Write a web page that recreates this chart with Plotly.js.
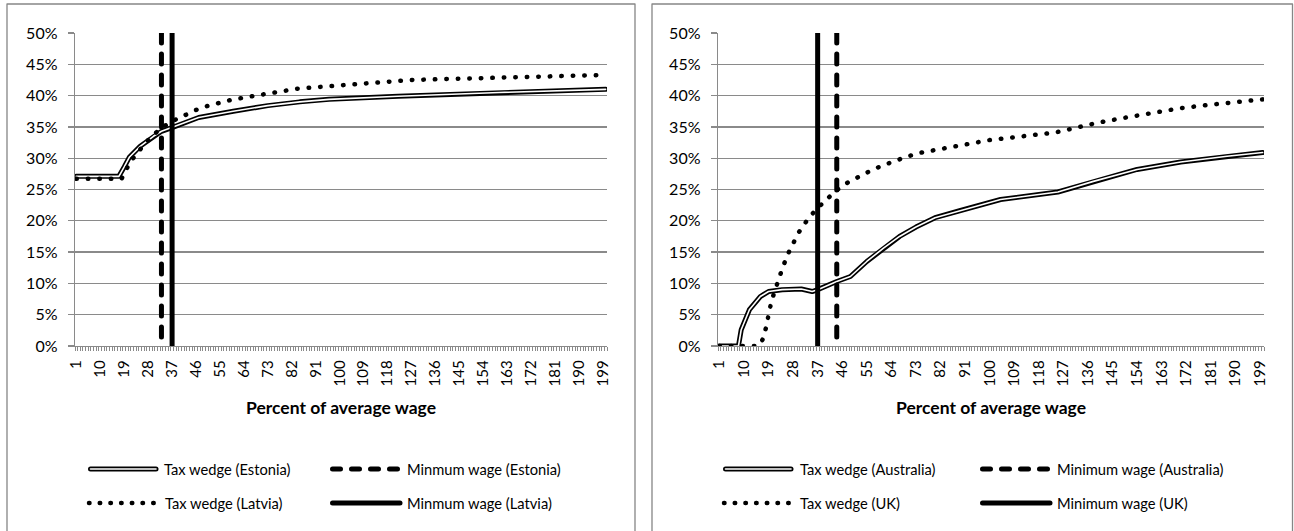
<!DOCTYPE html>
<html>
<head>
<meta charset="utf-8">
<script src="https://cdn.plot.ly/plotly-3.0.1.min.js"></script>
<style>
html,body{margin:0;padding:0;background:#fff;overflow:hidden;}
#chart{width:1294px;height:531px;}
#chart .scatterlayer path{stroke-linecap:round !important;stroke-linejoin:round !important;}
#chart .shapelayer path{stroke-linecap:round !important;stroke-linejoin:round !important;}
</style>
</head>
<body>
<div id="chart"></div>
<script>
// ---------- data ----------
const xTickLabels = [1,10,19,28,37,46,55,64,73,82,91,100,109,118,127,136,145,154,163,172,181,190,199];
const yTickVals = [0,5,10,15,20,25,30,35,40,45,50];
const yTickText = ['0%','5%','10%','15%','20%','25%','30%','35%','40%','45%','50%'];

// Left panel: Estonia / Latvia
const estoniaX = [1,17,19,21,25,30,33,37,40,47,60,73,85,96,122,160,200];
const estoniaWedge = [27.1,27.1,28.6,30.2,31.9,33.5,34.3,34.9,35.4,36.5,37.5,38.4,39.0,39.4,39.9,40.5,41.0];
const latviaX = [1,18,20,22,25,28,31,34,38,42,46,50,54,59,63,67,71,76,80,84,93,101,110,119,127,136,145,154,162,171,179,188,196,200];
const latviaWedge = [26.7,26.7,28.4,29.8,31.4,32.9,34.1,35.1,36.1,37.0,37.7,38.3,38.8,39.3,39.6,39.9,40.3,40.6,40.9,41.1,41.4,41.7,42.0,42.3,42.5,42.6,42.7,42.8,42.9,43.0,43.1,43.2,43.3,43.3];
const minWageEstonia = 33;
const minWageLatvia = 37;

// Right panel: Australia / UK
const australiaX = [1,8,9,12,16,19,24,31,35,37,44,49,55,61,67,73,80,89,96,104,125,138,154,170,187,200];
const australiaWedge = [0,0,2.6,5.8,7.9,8.7,9.0,9.1,8.7,9.0,10.3,11.1,13.5,15.6,17.5,19.0,20.5,21.6,22.4,23.4,24.6,26.3,28.2,29.4,30.3,30.9];
const ukX = [1,15,16,17,18,19,20,21,22,24,26,28,30,33,36,40,44,48,52,56,60,65,70,75,80,85,90,95,100,110,120,124,130,140,150,160,170,180,190,200];
const ukWedge = [0,0,0.3,1.2,2.8,5.0,7.0,8.4,9.8,12.3,14.6,16.5,18.1,20.0,21.6,23.3,24.9,26.1,27.1,27.9,28.7,29.5,30.3,30.9,31.3,31.8,32.1,32.5,32.9,33.4,33.8,34.1,34.7,35.7,36.5,37.3,38.0,38.5,38.9,39.4];
const minWageAustralia = 44;
const minWageUK = 37;

const vLineY = [50, 0];

const leftNames = ['Tax wedge (Estonia)','Minmum wage (Estonia)','Tax wedge (Latvia)','Minmum wage (Latvia)'];
const rightNames = ['Tax wedge (Australia)','Minimum wage (Australia)','Tax wedge (UK)','Minimum wage (UK)'];
const xTitle = 'Percent of average wage';

// ---------- styling ----------
const W = 1294, H = 531;
const PX = x => x / W;
const PY = y => 1 - y / H;
const FONT = 'Lato, "Open Sans", sans-serif';
const GRID = '#8a8a8a';

function doubleLine(x, y, xa, ya) {
  return [
    {x, y, xaxis: xa, yaxis: ya, mode: 'lines', line: {color: '#000', width: 5}, hoverinfo: 'skip', showlegend: false},
    {x, y, xaxis: xa, yaxis: ya, mode: 'lines', line: {color: '#fff', width: 1.6}, hoverinfo: 'skip', showlegend: false}
  ];
}
function vLine(v, dash, xa, ya) {
  return {x: [v, v], y: vLineY, xaxis: xa, yaxis: ya, mode: 'lines',
    line: {color: '#000', width: 5, dash: dash}, hoverinfo: 'skip', showlegend: false};
}
function dotted(x, y, xa, ya) {
  return {x, y, xaxis: xa, yaxis: ya, mode: 'lines',
    line: {color: '#000', width: 4.5, dash: '0.5px,11px'}, hoverinfo: 'skip', showlegend: false};
}

const data = [].concat(
  doubleLine(estoniaX, estoniaWedge, 'x', 'y'),
  [vLine(minWageEstonia, '10px,11px', 'x', 'y')],
  [dotted(latviaX, latviaWedge, 'x', 'y')],
  [vLine(minWageLatvia, 'solid', 'x', 'y')],
  doubleLine(australiaX, australiaWedge, 'x2', 'y2'),
  [vLine(minWageAustralia, '10px,11px', 'x2', 'y2')],
  [dotted(ukX, ukWedge, 'x2', 'y2')],
  [vLine(minWageUK, 'solid', 'x2', 'y2')]
);

function xAxis(domain) {
  return {
    domain: domain, range: [0.5, 200.5], tickmode: 'array',
    tickvals: xTickLabels, ticktext: xTickLabels.map(String), tickangle: -90,
    ticks: '', ticklabelstandoff: 7,
    showline: true, linecolor: GRID, linewidth: 1.3, showgrid: false, zeroline: false,
    minor: {tickmode: 'linear', tick0: 0.5, dtick: 1, ticks: 'outside', ticklen: 4, tickcolor: GRID, tickwidth: 1, showgrid: false},
    tickfont: {family: FONT, size: 15, color: '#000'}, fixedrange: true
  };
}
function yAxis(anchor) {
  return {
    domain: [PY(346), PY(33)], range: [0, 50], anchor: anchor,
    tickmode: 'array', tickvals: yTickVals, ticktext: yTickText,
    ticks: 'outside', ticklen: 6, tickcolor: GRID, tickwidth: 1.3, ticklabelstandoff: 7,
    showline: true, linecolor: GRID, linewidth: 1.3,
    showgrid: true, gridcolor: GRID, gridwidth: 1.3, zeroline: false,
    tickfont: {family: FONT, size: 16, color: '#000'}, fixedrange: true
  };
}

const shapes = [
  {type: 'rect', xref: 'paper', yref: 'paper', x0: PX(7), x1: PX(635), y0: -0.05, y1: PY(4), line: {color: '#868686', width: 1.3}},
  {type: 'rect', xref: 'paper', yref: 'paper', x0: PX(652), x1: PX(1292.5), y0: -0.05, y1: PY(4), line: {color: '#868686', width: 1.3}}
];
const annotations = [];

function legend(names, sx1, sx2, tx1, tx2, t2x1) {
  const r1 = 469, r2 = 503;
  shapes.push({type: 'line', xref: 'paper', yref: 'paper', x0: PX(sx1 + 2.5), x1: PX(sx1 + 68), y0: PY(r1), y1: PY(r1), line: {color: '#000', width: 5}});
  shapes.push({type: 'line', xref: 'paper', yref: 'paper', x0: PX(sx1 + 2.5), x1: PX(sx1 + 68), y0: PY(r1), y1: PY(r1), line: {color: '#fff', width: 1.6}});
  shapes.push({type: 'line', xref: 'paper', yref: 'paper', x0: PX(sx2 + 2.5), x1: PX(sx2 + 70), y0: PY(r1), y1: PY(r1), line: {color: '#000', width: 5, dash: '8px,11px'}});
  shapes.push({type: 'line', xref: 'paper', yref: 'paper', x0: PX(sx1 + 1), x1: PX(sx1 + 66), y0: PY(r2), y1: PY(r2), line: {color: '#000', width: 4.5, dash: '0.5px,10.2px'}});
  shapes.push({type: 'line', xref: 'paper', yref: 'paper', x0: PX(sx2 + 2.5), x1: PX(sx2 + 70), y0: PY(r2), y1: PY(r2), line: {color: '#000', width: 5}});
  const txt = (t, x, y) => annotations.push({text: t, x: PX(x), y: PY(y), xref: 'paper', yref: 'paper', xanchor: 'left', yanchor: 'middle', showarrow: false, font: {family: FONT, size: 14.7, color: '#000'}});
  txt(names[0], tx1, r1);
  txt(names[1], tx2, r1);
  txt(names[2], t2x1, r2);
  txt(names[3], tx2, r2);
}
legend(leftNames, 88, 330, 162, 405, 163);
legend(rightNames, 723, 980, 798, 1055, 798);

annotations.push({text: '<b>' + xTitle + '</b>', x: PX(341), y: PY(407), xref: 'paper', yref: 'paper', xanchor: 'center', yanchor: 'middle', showarrow: false, font: {family: FONT, size: 17.5, color: '#000'}});
annotations.push({text: '<b>' + xTitle + '</b>', x: PX(991), y: PY(407), xref: 'paper', yref: 'paper', xanchor: 'center', yanchor: 'middle', showarrow: false, font: {family: FONT, size: 17.5, color: '#000'}});

const layout = {
  width: W, height: H,
  margin: {l: 0, r: 0, t: 0, b: 0},
  paper_bgcolor: '#fff', plot_bgcolor: '#fff',
  showlegend: false,
  xaxis: Object.assign(xAxis([PX(75), PX(607)]), {anchor: 'y'}),
  yaxis: yAxis('x'),
  xaxis2: Object.assign(xAxis([PX(718), PX(1264)]), {anchor: 'y2'}),
  yaxis2: yAxis('x2'),
  shapes: shapes,
  annotations: annotations,
  font: {family: FONT, color: '#000'}
};

Plotly.newPlot('chart', data, layout, {displayModeBar: false, staticPlot: true});
</script>
</body>
</html>
